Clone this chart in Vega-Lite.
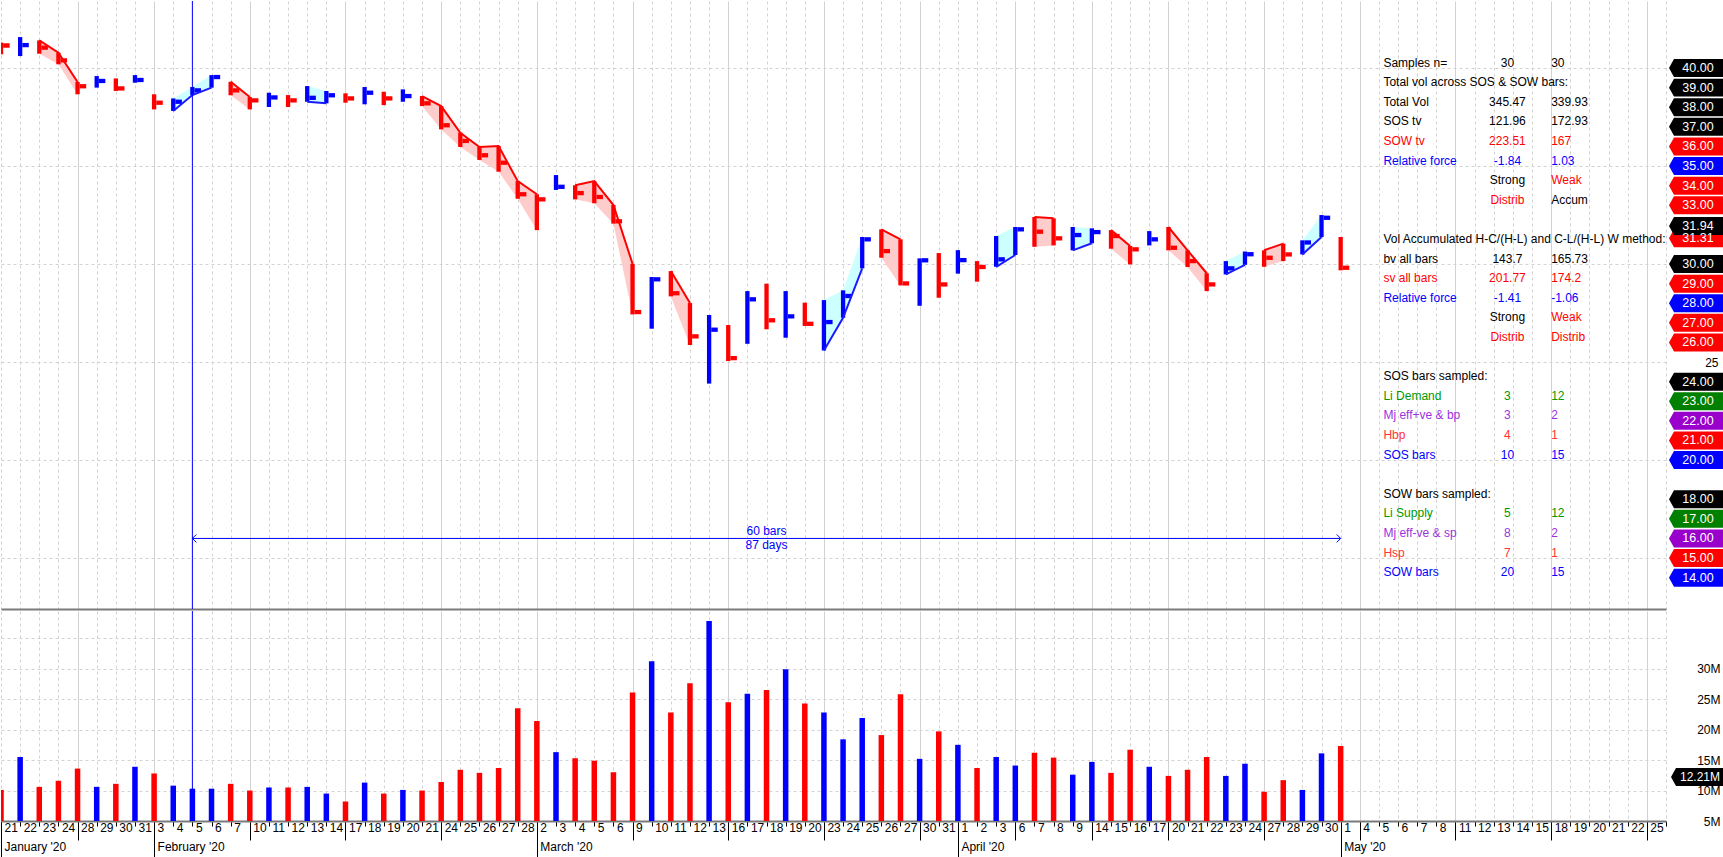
{
  "$schema": "https://vega.github.io/schema/vega-lite/v6.json",
  "background": "white",
  "padding": 0,
  "spacing": 0,
  "config": {
    "view": {"stroke": null},
    "font": "Liberation Sans",
    "axis": {"minExtent": 0},
    "axisY": {"minExtent": 0}
  },
  "datasets": {
    "bars": [
      {"date":"2020-01-21","high":41.3,"low":40.7,"close":41.15,"vol":10100000,"dir":"down"},
      {"date":"2020-01-22","high":41.58,"low":40.61,"close":41.17,"vol":15500000,"dir":"up"},
      {"date":"2020-01-23","high":41.41,"low":40.73,"close":41.04,"vol":10600000,"dir":"down","grp":"g1"},
      {"date":"2020-01-24","high":40.78,"low":40.19,"close":40.39,"vol":11600000,"dir":"down","grp":"g1"},
      {"date":"2020-01-28","high":39.29,"low":38.66,"close":39.07,"vol":13600000,"dir":"down","grp":"g1"},
      {"date":"2020-01-29","high":39.59,"low":39.0,"close":39.34,"vol":10600000,"dir":"up"},
      {"date":"2020-01-30","high":39.47,"low":38.83,"close":38.96,"vol":11100000,"dir":"down"},
      {"date":"2020-01-31","high":39.64,"low":39.25,"close":39.39,"vol":13900000,"dir":"up"},
      {"date":"2020-02-03","high":38.66,"low":37.89,"close":38.23,"vol":12800000,"dir":"down"},
      {"date":"2020-02-04","high":38.45,"low":37.81,"close":38.28,"vol":10800000,"dir":"up","grp":"g2"},
      {"date":"2020-02-05","high":39.03,"low":38.62,"close":38.86,"vol":10300000,"dir":"up","grp":"g2"},
      {"date":"2020-02-06","high":39.64,"low":39.0,"close":39.54,"vol":10300000,"dir":"up","grp":"g2"},
      {"date":"2020-02-07","high":39.3,"low":38.61,"close":38.86,"vol":11100000,"dir":"down","grp":"g3"},
      {"date":"2020-02-10","high":38.52,"low":37.89,"close":38.35,"vol":10000000,"dir":"down","grp":"g3"},
      {"date":"2020-02-11","high":38.74,"low":38.01,"close":38.5,"vol":10500000,"dir":"up"},
      {"date":"2020-02-12","high":38.62,"low":38.01,"close":38.35,"vol":10500000,"dir":"down"},
      {"date":"2020-02-13","high":39.08,"low":38.28,"close":38.48,"vol":10600000,"dir":"up","grp":"g4"},
      {"date":"2020-02-14","high":38.83,"low":38.2,"close":38.61,"vol":9500000,"dir":"up","grp":"g4"},
      {"date":"2020-02-17","high":38.71,"low":38.23,"close":38.45,"vol":8200000,"dir":"down"},
      {"date":"2020-02-18","high":39.03,"low":38.15,"close":38.74,"vol":11300000,"dir":"up"},
      {"date":"2020-02-19","high":38.79,"low":38.11,"close":38.45,"vol":9500000,"dir":"down"},
      {"date":"2020-02-20","high":38.91,"low":38.28,"close":38.57,"vol":10100000,"dir":"up"},
      {"date":"2020-02-21","high":38.57,"low":38.06,"close":38.2,"vol":10000000,"dir":"down","grp":"g5"},
      {"date":"2020-02-24","high":38.06,"low":36.87,"close":37.08,"vol":11400000,"dir":"down","grp":"g5"},
      {"date":"2020-02-25","high":36.7,"low":35.97,"close":36.28,"vol":13400000,"dir":"down","grp":"g5"},
      {"date":"2020-02-26","high":35.97,"low":35.31,"close":35.55,"vol":12900000,"dir":"down","grp":"g5"},
      {"date":"2020-02-27","high":36.02,"low":34.71,"close":35.17,"vol":13700000,"dir":"down","grp":"g5"},
      {"date":"2020-02-28","high":34.23,"low":33.33,"close":33.56,"vol":23500000,"dir":"down","grp":"g5"},
      {"date":"2020-03-02","high":33.56,"low":31.73,"close":33.3,"vol":21400000,"dir":"down","grp":"g5"},
      {"date":"2020-03-03","high":34.54,"low":33.78,"close":33.94,"vol":16300000,"dir":"up"},
      {"date":"2020-03-04","high":34.02,"low":33.3,"close":33.62,"vol":15300000,"dir":"down","grp":"g6"},
      {"date":"2020-03-05","high":34.23,"low":33.1,"close":33.42,"vol":14900000,"dir":"down","grp":"g6"},
      {"date":"2020-03-06","high":33.01,"low":32.06,"close":32.18,"vol":13000000,"dir":"down","grp":"g6"},
      {"date":"2020-03-09","high":30.01,"low":27.43,"close":27.55,"vol":26100000,"dir":"down","grp":"g6"},
      {"date":"2020-03-10","high":29.34,"low":26.7,"close":29.22,"vol":31200000,"dir":"up"},
      {"date":"2020-03-11","high":29.64,"low":28.35,"close":28.51,"vol":22800000,"dir":"down","grp":"g7"},
      {"date":"2020-03-12","high":28.01,"low":25.87,"close":26.31,"vol":27600000,"dir":"down","grp":"g7"},
      {"date":"2020-03-13","high":27.4,"low":23.9,"close":26.65,"vol":37800000,"dir":"up"},
      {"date":"2020-03-16","high":26.89,"low":25.05,"close":25.2,"vol":24500000,"dir":"down"},
      {"date":"2020-03-17","high":28.62,"low":25.93,"close":28.2,"vol":25900000,"dir":"up"},
      {"date":"2020-03-18","high":29.0,"low":26.67,"close":27.13,"vol":26500000,"dir":"down"},
      {"date":"2020-03-19","high":28.62,"low":26.24,"close":27.33,"vol":29900000,"dir":"up"},
      {"date":"2020-03-20","high":28.03,"low":26.84,"close":26.95,"vol":24300000,"dir":"down"},
      {"date":"2020-03-23","high":28.16,"low":25.59,"close":27.04,"vol":22800000,"dir":"up","grp":"g8"},
      {"date":"2020-03-24","high":28.66,"low":27.26,"close":28.37,"vol":18400000,"dir":"up","grp":"g8"},
      {"date":"2020-03-25","high":31.38,"low":29.78,"close":31.26,"vol":21900000,"dir":"up","grp":"g8"},
      {"date":"2020-03-26","high":31.77,"low":30.32,"close":30.66,"vol":19100000,"dir":"down","grp":"g9"},
      {"date":"2020-03-27","high":31.26,"low":28.91,"close":29.01,"vol":25800000,"dir":"down","grp":"g9"},
      {"date":"2020-03-30","high":30.29,"low":27.87,"close":30.19,"vol":15200000,"dir":"up"},
      {"date":"2020-03-31","high":30.56,"low":28.28,"close":28.96,"vol":19700000,"dir":"down"},
      {"date":"2020-04-01","high":30.71,"low":29.51,"close":30.2,"vol":17500000,"dir":"up"},
      {"date":"2020-04-02","high":30.15,"low":29.1,"close":29.85,"vol":13700000,"dir":"down"},
      {"date":"2020-04-03","high":31.43,"low":29.86,"close":30.24,"vol":15500000,"dir":"up","grp":"g10"},
      {"date":"2020-04-06","high":31.89,"low":30.46,"close":31.77,"vol":14100000,"dir":"up","grp":"g10"},
      {"date":"2020-04-07","high":32.4,"low":30.88,"close":31.65,"vol":16200000,"dir":"down","grp":"g11"},
      {"date":"2020-04-08","high":32.33,"low":30.95,"close":31.31,"vol":15400000,"dir":"down","grp":"g11"},
      {"date":"2020-04-09","high":31.89,"low":30.7,"close":31.48,"vol":12600000,"dir":"up","grp":"g12"},
      {"date":"2020-04-14","high":31.82,"low":31.06,"close":31.63,"vol":14700000,"dir":"up","grp":"g12"},
      {"date":"2020-04-15","high":31.73,"low":30.78,"close":31.43,"vol":12900000,"dir":"down","grp":"g13"},
      {"date":"2020-04-16","high":30.92,"low":29.98,"close":30.75,"vol":16700000,"dir":"down","grp":"g13"},
      {"date":"2020-04-17","high":31.68,"low":30.95,"close":31.26,"vol":13900000,"dir":"up"},
      {"date":"2020-04-20","high":31.89,"low":30.7,"close":30.83,"vol":12400000,"dir":"down","grp":"g14"},
      {"date":"2020-04-21","high":30.7,"low":29.85,"close":30.15,"vol":13400000,"dir":"down","grp":"g14"},
      {"date":"2020-04-22","high":29.53,"low":28.62,"close":28.96,"vol":15500000,"dir":"down","grp":"g14"},
      {"date":"2020-04-23","high":30.15,"low":29.47,"close":29.78,"vol":12400000,"dir":"up","grp":"g15"},
      {"date":"2020-04-24","high":30.64,"low":29.96,"close":30.5,"vol":14400000,"dir":"up","grp":"g15"},
      {"date":"2020-04-27","high":30.7,"low":29.86,"close":30.32,"vol":9800000,"dir":"down","grp":"g16"},
      {"date":"2020-04-28","high":31.04,"low":30.15,"close":30.49,"vol":11700000,"dir":"down","grp":"g16"},
      {"date":"2020-04-29","high":31.21,"low":30.49,"close":31.1,"vol":10100000,"dir":"up","grp":"g17"},
      {"date":"2020-04-30","high":32.5,"low":31.38,"close":32.36,"vol":16100000,"dir":"up","grp":"g17"},
      {"date":"2020-05-01","high":31.38,"low":29.68,"close":29.81,"vol":17300000,"dir":"down"}
    ],
    "marker": [
      {"start":"2020-02-05","end":"2020-05-01","mid":"2020-03-18","level":16.0,"note":"60 bars|87 days"}
    ],
    "table": [
      {"level":40,"col":"label","text":"Samples n=","tone":"text"},
      {"level":40,"col":"c1","text":"30","tone":"text"},
      {"level":40,"col":"c2","text":"30","tone":"text"},
      {"level":39,"col":"label","text":"Total vol across SOS & SOW bars:","tone":"text"},
      {"level":38,"col":"label","text":"Total Vol","tone":"text"},
      {"level":38,"col":"c1","text":"345.47","tone":"text"},
      {"level":38,"col":"c2","text":"339.93","tone":"text"},
      {"level":37,"col":"label","text":"SOS tv","tone":"text"},
      {"level":37,"col":"c1","text":"121.96","tone":"text"},
      {"level":37,"col":"c2","text":"172.93","tone":"text"},
      {"level":36,"col":"label","text":"SOW tv","tone":"sow"},
      {"level":36,"col":"c1","text":"223.51","tone":"sow"},
      {"level":36,"col":"c2","text":"167","tone":"sow"},
      {"level":35,"col":"label","text":"Relative force","tone":"force"},
      {"level":35,"col":"c1","text":"-1.84","tone":"force"},
      {"level":35,"col":"c2","text":"1.03","tone":"force"},
      {"level":34,"col":"c1","text":"Strong","tone":"text"},
      {"level":34,"col":"c2","text":"Weak","tone":"sow"},
      {"level":33,"col":"c1","text":"Distrib","tone":"sow"},
      {"level":33,"col":"c2","text":"Accum","tone":"text"},
      {"level":31,"col":"label","text":"Vol Accumulated H-C/(H-L) and C-L/(H-L) W method:","tone":"text"},
      {"level":30,"col":"label","text":"bv all bars","tone":"text"},
      {"level":30,"col":"c1","text":"143.7","tone":"text"},
      {"level":30,"col":"c2","text":"165.73","tone":"text"},
      {"level":29,"col":"label","text":"sv all bars","tone":"sow"},
      {"level":29,"col":"c1","text":"201.77","tone":"sow"},
      {"level":29,"col":"c2","text":"174.2","tone":"sow"},
      {"level":28,"col":"label","text":"Relative force","tone":"force"},
      {"level":28,"col":"c1","text":"-1.41","tone":"force"},
      {"level":28,"col":"c2","text":"-1.06","tone":"force"},
      {"level":27,"col":"c1","text":"Strong","tone":"text"},
      {"level":27,"col":"c2","text":"Weak","tone":"sow"},
      {"level":26,"col":"c1","text":"Distrib","tone":"sow"},
      {"level":26,"col":"c2","text":"Distrib","tone":"sow"},
      {"level":24,"col":"label","text":"SOS bars sampled:","tone":"text"},
      {"level":23,"col":"label","text":"Li Demand","tone":"demand"},
      {"level":23,"col":"c1","text":"3","tone":"demand"},
      {"level":23,"col":"c2","text":"12","tone":"demand"},
      {"level":22,"col":"label","text":"Mj eff+ve & bp","tone":"effort"},
      {"level":22,"col":"c1","text":"3","tone":"effort"},
      {"level":22,"col":"c2","text":"2","tone":"effort"},
      {"level":21,"col":"label","text":"Hbp","tone":"hbp"},
      {"level":21,"col":"c1","text":"4","tone":"hbp"},
      {"level":21,"col":"c2","text":"1","tone":"hbp"},
      {"level":20,"col":"label","text":"SOS bars","tone":"force"},
      {"level":20,"col":"c1","text":"10","tone":"force"},
      {"level":20,"col":"c2","text":"15","tone":"force"},
      {"level":18,"col":"label","text":"SOW bars sampled:","tone":"text"},
      {"level":17,"col":"label","text":"Li Supply","tone":"demand"},
      {"level":17,"col":"c1","text":"5","tone":"demand"},
      {"level":17,"col":"c2","text":"12","tone":"demand"},
      {"level":16,"col":"label","text":"Mj eff-ve & sp","tone":"effort"},
      {"level":16,"col":"c1","text":"8","tone":"effort"},
      {"level":16,"col":"c2","text":"2","tone":"effort"},
      {"level":15,"col":"label","text":"Hsp","tone":"hbp"},
      {"level":15,"col":"c1","text":"7","tone":"hbp"},
      {"level":15,"col":"c2","text":"1","tone":"hbp"},
      {"level":14,"col":"label","text":"SOW bars","tone":"force"},
      {"level":14,"col":"c1","text":"20","tone":"force"},
      {"level":14,"col":"c2","text":"15","tone":"force"}
    ],
    "priceTags": [
      {"level":40,"label":"40.00","tone":"text"},
      {"level":39,"label":"39.00","tone":"text"},
      {"level":38,"label":"38.00","tone":"text"},
      {"level":37,"label":"37.00","tone":"text"},
      {"level":36,"label":"36.00","tone":"sow"},
      {"level":35,"label":"35.00","tone":"force"},
      {"level":34,"label":"34.00","tone":"sow"},
      {"level":33,"label":"33.00","tone":"sow"},
      {"level":31.31,"label":"31.31","tone":"sow"},
      {"level":30,"label":"30.00","tone":"text"},
      {"level":29,"label":"29.00","tone":"sow"},
      {"level":28,"label":"28.00","tone":"force"},
      {"level":27,"label":"27.00","tone":"sow"},
      {"level":26,"label":"26.00","tone":"sow"},
      {"level":24,"label":"24.00","tone":"text"},
      {"level":23,"label":"23.00","tone":"demand"},
      {"level":22,"label":"22.00","tone":"effort"},
      {"level":21,"label":"21.00","tone":"sow"},
      {"level":20,"label":"20.00","tone":"force"},
      {"level":18,"label":"18.00","tone":"text"},
      {"level":17,"label":"17.00","tone":"demand"},
      {"level":16,"label":"16.00","tone":"effort"},
      {"level":15,"label":"15.00","tone":"sow"},
      {"level":14,"label":"14.00","tone":"force"},
      {"level":31.94,"label":"31.94","tone":"text"}
    ],
    "volTags": [
      {"vol":12210000,"label":"12.21M"}
    ]
  },
  "resolve": {"scale": {"color": "independent"}},
  "vconcat": [
    {
      "spacing": 0,
      "resolve": {"scale": {"color": "independent"}},
      "hconcat": [
        {
          "width": 1665,
          "height": 608,
          "data": {"name": "bars"},
          "encoding": {
            "x": {
              "field": "date",
              "type": "ordinal",
              "scale": {"type": "point", "padding": 0, "domain": ["2020-01-21","2020-01-22","2020-01-23","2020-01-24","2020-01-28","2020-01-29","2020-01-30","2020-01-31","2020-02-03","2020-02-04","2020-02-05","2020-02-06","2020-02-07","2020-02-10","2020-02-11","2020-02-12","2020-02-13","2020-02-14","2020-02-17","2020-02-18","2020-02-19","2020-02-20","2020-02-21","2020-02-24","2020-02-25","2020-02-26","2020-02-27","2020-02-28","2020-03-02","2020-03-03","2020-03-04","2020-03-05","2020-03-06","2020-03-09","2020-03-10","2020-03-11","2020-03-12","2020-03-13","2020-03-16","2020-03-17","2020-03-18","2020-03-19","2020-03-20","2020-03-23","2020-03-24","2020-03-25","2020-03-26","2020-03-27","2020-03-30","2020-03-31","2020-04-01","2020-04-02","2020-04-03","2020-04-06","2020-04-07","2020-04-08","2020-04-09","2020-04-14","2020-04-15","2020-04-16","2020-04-17","2020-04-20","2020-04-21","2020-04-22","2020-04-23","2020-04-24","2020-04-27","2020-04-28","2020-04-29","2020-04-30","2020-05-01","2020-05-04","2020-05-05","2020-05-06","2020-05-07","2020-05-08","2020-05-11","2020-05-12","2020-05-13","2020-05-14","2020-05-15","2020-05-18","2020-05-19","2020-05-20","2020-05-21","2020-05-22","2020-05-25","2020-05-26"]},
              "axis": {
                "title": null, "labels": false, "ticks": false,
                "domain": true, "domainColor": "#7a7a7a", "domainWidth": 2,
                "grid": true, "gridColor": "#d2d2d2",
                "gridDash": {"condition": {"test": "utcday(toDate(datum.value)) == 1 || datum.value == '2020-01-28' || datum.value == '2020-04-14'", "value": []}, "value": [3, 3]}
              }
            }
          },
          "resolve": {"scale": {"color": "independent"}},
          "layer": [
            {
              "transform": [{"filter": "isValid(datum.grp)"}],
              "mark": {"type": "area", "clip": true, "opacity": 1},
              "encoding": {
                "y": {"field": "high", "type": "quantitative", "stack": null, "title": null,
                  "scale": {"domain": [12.4, 43.42], "nice": false, "zero": false},
                  "axis": {"title": null, "labels": false, "ticks": false, "domain": false, "grid": true, "values": [15, 20, 25, 30, 35, 40], "gridColor": "#d2d2d2", "gridDash": [3, 3], "minExtent": 0, "maxExtent": 0}},
                "y2": {"field": "low"},
                "detail": {"field": "grp"},
                "color": {"field": "dir", "type": "nominal", "legend": null,
                  "scale": {"domain": ["up", "down"], "range": ["#ccffff", "#ffcccc"]}}
              }
            },
            {
              "mark": {"type": "rule", "strokeWidth": 4.3, "clip": true},
              "encoding": {
                "y": {"field": "low", "type": "quantitative", "title": null, "scale": {"domain": [12.4, 43.42], "nice": false, "zero": false}},
                "y2": {"field": "high"},
                "color": {"field": "dir", "type": "nominal", "legend": null,
                  "scale": {"domain": ["up", "down"], "range": ["#0000ff", "#ff0000"]}}
              }
            },
            {
              "mark": {"type": "tick", "thickness": 4.3, "size": 6.5, "xOffset": 5.4, "opacity": 1, "clip": true},
              "encoding": {
                "y": {"field": "close", "type": "quantitative", "title": null, "scale": {"domain": [12.4, 43.42], "nice": false, "zero": false}},
                "color": {"field": "dir", "type": "nominal", "legend": null,
                  "scale": {"domain": ["up", "down"], "range": ["#0000ff", "#ff0000"]}}
              }
            },
            {
              "transform": [{"filter": "isValid(datum.grp) && datum.dir == 'down'"}],
              "mark": {"type": "line", "color": "#ff0000", "strokeWidth": 2, "clip": true},
              "encoding": {
                "y": {"field": "high", "type": "quantitative", "title": null, "scale": {"domain": [12.4, 43.42], "nice": false, "zero": false}},
                "detail": {"field": "grp"}
              }
            },
            {
              "transform": [{"filter": "isValid(datum.grp) && datum.dir == 'up'"}],
              "mark": {"type": "line", "color": "#1a1aff", "strokeWidth": 2, "clip": true},
              "encoding": {
                "y": {"field": "low", "type": "quantitative", "title": null, "scale": {"domain": [12.4, 43.42], "nice": false, "zero": false}},
                "detail": {"field": "grp"}
              }
            },
            {
              "data": {"name": "marker"},
              "mark": {"type": "rule", "color": "#0000ff", "strokeWidth": 1},
              "encoding": {"x": {"field": "start", "type": "ordinal"}}
            },
            {
              "data": {"name": "marker"},
              "mark": {"type": "rule", "color": "#0000ff", "strokeWidth": 1},
              "encoding": {
                "x": {"field": "start", "type": "ordinal"},
                "x2": {"field": "end"},
                "y": {"field": "level", "type": "quantitative", "title": null, "scale": {"domain": [12.4, 43.42], "nice": false, "zero": false}}
              }
            },
            {
              "data": {"name": "marker"},
              "mark": {"type": "point", "shape": "M-1,-1L0,0L-1,1", "size": 64, "filled": false, "color": "#0000ff", "strokeWidth": 1, "opacity": 1},
              "encoding": {
                "x": {"field": "end", "type": "ordinal"},
                "y": {"field": "level", "type": "quantitative", "title": null, "scale": {"domain": [12.4, 43.42], "nice": false, "zero": false}}
              }
            },
            {
              "data": {"name": "marker"},
              "mark": {"type": "point", "shape": "M1,-1L0,0L1,1", "size": 64, "filled": false, "color": "#0000ff", "strokeWidth": 1, "opacity": 1},
              "encoding": {
                "x": {"field": "start", "type": "ordinal"},
                "y": {"field": "level", "type": "quantitative", "title": null, "scale": {"domain": [12.4, 43.42], "nice": false, "zero": false}}
              }
            },
            {
              "data": {"name": "marker"},
              "mark": {"type": "text", "color": "#0000ff", "fontSize": 12, "lineBreak": "|", "lineHeight": 14.3, "baseline": "middle", "align": "center", "dy": -7.5},
              "encoding": {
                "x": {"field": "mid", "type": "ordinal"},
                "y": {"field": "level", "type": "quantitative", "title": null, "scale": {"domain": [12.4, 43.42], "nice": false, "zero": false}},
                "text": {"field": "note"}
              }
            },
            {
              "data": {"name": "table"},
              "transform": [{"filter": "datum.col == 'label'"}],
              "mark": {"type": "text", "align": "left", "baseline": "middle", "dx": 4.5, "dy": -5.5, "fontSize": 12},
              "encoding": {
                "x": {"datum": "2020-05-05", "type": "ordinal"},
                "y": {"field": "level", "type": "quantitative", "title": null, "scale": {"domain": [12.4, 43.42], "nice": false, "zero": false}},
                "text": {"field": "text"},
                "color": {"field": "tone", "type": "nominal", "legend": null,
                  "scale": {"domain": ["text", "sow", "force", "demand", "effort", "hbp"], "range": ["#000000", "#ff0000", "#0000ff", "#009900", "#9933dd", "#ff3333"]}}
              }
            },
            {
              "data": {"name": "table"},
              "transform": [{"filter": "datum.col == 'c1'"}],
              "mark": {"type": "text", "align": "center", "baseline": "middle", "dx": -5.5, "dy": -5.5, "fontSize": 12},
              "encoding": {
                "x": {"datum": "2020-05-14", "type": "ordinal"},
                "y": {"field": "level", "type": "quantitative", "title": null, "scale": {"domain": [12.4, 43.42], "nice": false, "zero": false}},
                "text": {"field": "text"},
                "color": {"field": "tone", "type": "nominal", "legend": null,
                  "scale": {"domain": ["text", "sow", "force", "demand", "effort", "hbp"], "range": ["#000000", "#ff0000", "#0000ff", "#009900", "#9933dd", "#ff3333"]}}
              }
            },
            {
              "data": {"name": "table"},
              "transform": [{"filter": "datum.col == 'c2'"}],
              "mark": {"type": "text", "align": "left", "baseline": "middle", "dx": 0, "dy": -5.5, "fontSize": 12},
              "encoding": {
                "x": {"datum": "2020-05-18", "type": "ordinal"},
                "y": {"field": "level", "type": "quantitative", "title": null, "scale": {"domain": [12.4, 43.42], "nice": false, "zero": false}},
                "text": {"field": "text"},
                "color": {"field": "tone", "type": "nominal", "legend": null,
                  "scale": {"domain": ["text", "sow", "force", "demand", "effort", "hbp"], "range": ["#000000", "#ff0000", "#0000ff", "#009900", "#9933dd", "#ff3333"]}}
              }
            }
          ]
        },
        {
          "width": 58,
          "height": 608,
          "data": {"name": "priceTags"},
          "layer": [
            {
              "mark": {"type": "point", "shape": "M-1,0L-0.815,-0.333L1,-0.333L1,0.333L-0.815,0.333Z", "size": 2916, "filled": true, "opacity": 1, "strokeWidth": 0},
              "encoding": {
                "y": {"field": "level", "type": "quantitative", "title": null,
                  "scale": {"domain": [12.4, 43.42], "nice": false, "zero": false},
                  "axis": {"orient": "right", "title": null, "values": [25], "format": "d", "labelAlign": "right", "labelPadding": -7, "labelFontSize": 12, "labelColor": "#000000", "ticks": false, "domain": false, "grid": false, "labelOverlap": false, "minExtent": 0, "maxExtent": 0}},
                "color": {"field": "tone", "type": "nominal", "legend": null,
                  "scale": {"domain": ["text", "sow", "force", "demand", "effort"], "range": ["#000000", "#ff0000", "#0000ff", "#008000", "#9900cc"]}}
              }
            },
            {
              "mark": {"type": "text", "color": "#ffffff", "fontSize": 12.5, "dx": 2, "baseline": "middle", "align": "center"},
              "encoding": {
                "y": {"field": "level", "type": "quantitative", "title": null, "scale": {"domain": [12.4, 43.42], "nice": false, "zero": false}},
                "text": {"field": "label"}
              }
            }
          ]
        }
      ]
    },
    {
      "spacing": 0,
      "resolve": {"scale": {"color": "independent"}},
      "hconcat": [
        {
          "width": 1665,
          "height": 210,
          "layer": [
            {
              "data": {"name": "bars"},
              "mark": {"type": "bar", "width": 5.5, "clip": true},
              "encoding": {
                "x": {
                  "field": "date",
                  "type": "ordinal",
                  "scale": {"type": "point", "padding": 0, "domain": ["2020-01-21","2020-01-22","2020-01-23","2020-01-24","2020-01-28","2020-01-29","2020-01-30","2020-01-31","2020-02-03","2020-02-04","2020-02-05","2020-02-06","2020-02-07","2020-02-10","2020-02-11","2020-02-12","2020-02-13","2020-02-14","2020-02-17","2020-02-18","2020-02-19","2020-02-20","2020-02-21","2020-02-24","2020-02-25","2020-02-26","2020-02-27","2020-02-28","2020-03-02","2020-03-03","2020-03-04","2020-03-05","2020-03-06","2020-03-09","2020-03-10","2020-03-11","2020-03-12","2020-03-13","2020-03-16","2020-03-17","2020-03-18","2020-03-19","2020-03-20","2020-03-23","2020-03-24","2020-03-25","2020-03-26","2020-03-27","2020-03-30","2020-03-31","2020-04-01","2020-04-02","2020-04-03","2020-04-06","2020-04-07","2020-04-08","2020-04-09","2020-04-14","2020-04-15","2020-04-16","2020-04-17","2020-04-20","2020-04-21","2020-04-22","2020-04-23","2020-04-24","2020-04-27","2020-04-28","2020-04-29","2020-04-30","2020-05-01","2020-05-04","2020-05-05","2020-05-06","2020-05-07","2020-05-08","2020-05-11","2020-05-12","2020-05-13","2020-05-14","2020-05-15","2020-05-18","2020-05-19","2020-05-20","2020-05-21","2020-05-22","2020-05-25","2020-05-26"]},
                  "axis": {
                    "title": null, "orient": "bottom",
                    "grid": true, "gridColor": "#d2d2d2",
                    "gridDash": {"condition": {"test": "utcday(toDate(datum.value)) == 1 || datum.value == '2020-01-28' || datum.value == '2020-04-14'", "value": []}, "value": [3, 3]},
                    "domain": true, "domainColor": "#7a7a7a", "domainWidth": 2,
                    "ticks": true, "tickColor": "#000000",
                    "tickSize": {"condition": [
                      {"test": "indexof(['2020-01-21','2020-02-03','2020-03-02','2020-04-01','2020-05-01'], datum.value) >= 0", "value": 37},
                      {"test": "utcday(toDate(datum.value)) == 1 || datum.value == '2020-01-28' || datum.value == '2020-04-14'", "value": 19}
                    ], "value": 5},
                    "labelPadding": {"condition": [
                      {"test": "indexof(['2020-01-21','2020-02-03','2020-03-02','2020-04-01','2020-05-01'], datum.value) >= 0", "value": -36},
                      {"test": "utcday(toDate(datum.value)) == 1 || datum.value == '2020-01-28' || datum.value == '2020-04-14'", "value": -18}
                    ], "value": -4},
                    "labelExpr": "datum.value == '2020-05-26' ? '' : (indexof(['2020-01-21','2020-02-03','2020-03-02','2020-04-01','2020-05-01'], datum.value) >= 0 ? ['' + toNumber(slice(datum.value, 8)), utcFormat(toDate(datum.value), \"%B '%y\")] : '' + toNumber(slice(datum.value, 8)))",
                    "labelAlign": "left", "labelBaseline": "top", "labelOffset": 3,
                    "labelLineHeight": 19, "labelFontSize": 12, "labelColor": "#000000",
                    "labelOverlap": false, "labelAngle": 0, "labelBound": false
                  }
                },
                "y": {"field": "vol", "type": "quantitative", "title": null,
                  "scale": {"domain": [5000000, 39460000], "nice": false, "zero": false},
                  "axis": {"title": null, "labels": false, "ticks": false, "domain": false, "grid": true, "values": [10000000, 15000000, 20000000, 25000000, 30000000, 35000000], "gridColor": "#d2d2d2", "gridDash": [3, 3], "minExtent": 0, "maxExtent": 0}},
                "color": {"field": "dir", "type": "nominal", "legend": null,
                  "scale": {"domain": ["up", "down"], "range": ["#0000ff", "#ff0000"]}}
              }
            },
            {
              "data": {"name": "marker"},
              "mark": {"type": "rule", "color": "#0000ff", "strokeWidth": 1},
              "encoding": {"x": {"field": "start", "type": "ordinal"}}
            }
          ]
        },
        {
          "width": 58,
          "height": 210,
          "data": {"name": "volTags"},
          "layer": [
            {
              "mark": {"type": "point", "shape": "M-1,0L-0.815,-0.333L1,-0.333L1,0.333L-0.815,0.333Z", "size": 2916, "filled": true, "opacity": 1, "strokeWidth": 0, "color": "#000000"},
              "encoding": {
                "y": {"field": "vol", "type": "quantitative", "title": null,
                  "scale": {"domain": [5000000, 39460000], "nice": false, "zero": false},
                  "axis": {"orient": "right", "title": null, "values": [5000000, 10000000, 15000000, 20000000, 25000000, 30000000], "format": "~s", "labelAlign": "right", "labelPadding": -7, "labelFontSize": 12, "labelColor": "#000000", "ticks": false, "domain": false, "grid": false, "labelOverlap": false, "labelBound": false, "minExtent": 0, "maxExtent": 0}}
              }
            },
            {
              "mark": {"type": "text", "color": "#ffffff", "fontSize": 12, "dx": 2, "baseline": "middle", "align": "center"},
              "encoding": {
                "y": {"field": "vol", "type": "quantitative", "title": null, "scale": {"domain": [5000000, 39460000], "nice": false, "zero": false}},
                "text": {"field": "label"}
              }
            }
          ]
        }
      ]
    }
  ]
}
